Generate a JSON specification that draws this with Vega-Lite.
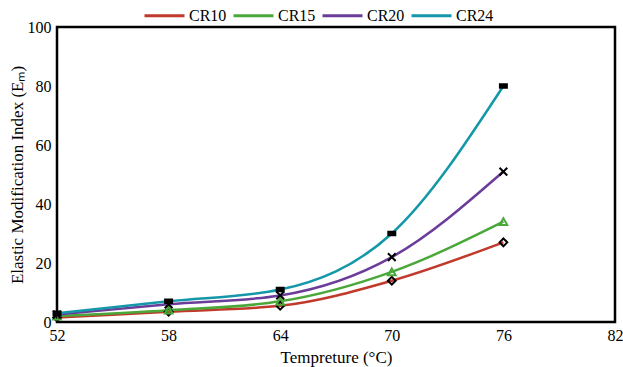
{
  "$schema": "https://vega.github.io/schema/vega-lite/v6.json",
  "width": 558,
  "height": 295,
  "autosize": {"type": "none"},
  "padding": {"left": 57, "top": 27, "right": 8, "bottom": 45},
  "background": "white",
  "config": {
    "font": "Liberation Serif, Times New Roman, serif",
    "view": {"stroke": "black", "strokeWidth": 2.5}
  },
  "data": {"values": [
    {"t": 52, "s": "CR10", "v": 1.5}, {"t": 58, "s": "CR10", "v": 3.5}, {"t": 64, "s": "CR10", "v": 5.5}, {"t": 70, "s": "CR10", "v": 14}, {"t": 76, "s": "CR10", "v": 27},
    {"t": 52, "s": "CR15", "v": 2}, {"t": 58, "s": "CR15", "v": 4}, {"t": 64, "s": "CR15", "v": 7}, {"t": 70, "s": "CR15", "v": 17}, {"t": 76, "s": "CR15", "v": 34},
    {"t": 52, "s": "CR20", "v": 2.5}, {"t": 58, "s": "CR20", "v": 6}, {"t": 64, "s": "CR20", "v": 9}, {"t": 70, "s": "CR20", "v": 22}, {"t": 76, "s": "CR20", "v": 51},
    {"t": 52, "s": "CR24", "v": 3}, {"t": 58, "s": "CR24", "v": 7}, {"t": 64, "s": "CR24", "v": 11}, {"t": 70, "s": "CR24", "v": 30}, {"t": 76, "s": "CR24", "v": 80}
  ]},
  "encoding": {
    "x": {"field": "t", "type": "quantitative", "title": "Tempreture (°C)", "scale": {"domain": [52, 82], "nice": false, "zero": false},
      "axis": {"values": [52, 58, 64, 70, 76, 82], "grid": false, "domain": false, "ticks": false, "labelFlush": false, "labelPadding": 5, "titlePadding": 6, "labelFont": "Liberation Serif, Times New Roman, serif", "labelFontSize": 16, "labelColor": "#000", "titleFont": "Liberation Serif, Times New Roman, serif", "titleFontSize": 17, "titleFontWeight": "normal", "titleColor": "#000"}},
    "y": {"field": "v", "type": "quantitative", "title": "Elastic Modification Index (Eₘ)", "scale": {"domain": [0, 100], "nice": false},
      "axis": {"values": [0, 20, 40, 60, 80, 100], "grid": false, "domain": false, "ticks": false, "labelFlush": false, "labelPadding": 6, "titlePadding": 1, "labelFont": "Liberation Serif, Times New Roman, serif", "labelFontSize": 16, "labelColor": "#000", "titleFont": "Liberation Serif, Times New Roman, serif", "titleFontSize": 17, "titleFontWeight": "normal", "titleColor": "#000"}}
  },
  "layer": [
    {
      "mark": {"type": "line", "interpolate": "monotone", "strokeWidth": 2.5},
      "encoding": {
        "color": {"field": "s", "type": "nominal", "scale": {"domain": ["CR10", "CR15", "CR20", "CR24"], "range": ["#c0392b", "#4aa83a", "#6a3d9a", "#1597aa"]},
          "legend": {"title": null, "orient": "none", "legendX": 86, "legendY": -33, "direction": "horizontal", "symbolType": "stroke", "symbolStrokeWidth": 3, "symbolSize": 1600, "labelFontSize": 16, "labelFont": "Liberation Serif, Times New Roman, serif", "labelColor": "#000", "columnPadding": 0, "labelOffset": 3}}
      }
    },
    {
      "mark": {"type": "point", "size": 60, "strokeWidth": 2, "opacity": 1, "filled": false},
      "encoding": {
        "shape": {"condition": [{"test": "datum.s === 'CR10'", "value": "diamond"}, {"test": "datum.s === 'CR15'", "value": "triangle-up"}, {"test": "datum.s === 'CR20'", "value": "M-1,-1L1,1M-1,1L1,-1"}], "value": "M-0.9,-0.45H0.9V0.45H-0.9Z"},
        "stroke": {"condition": {"test": "datum.s === 'CR15'", "value": "#4aa83a"}, "value": "black"},
        "fill": {"condition": {"test": "datum.s === 'CR24'", "value": "black"}, "value": "transparent"}
      }
    }
  ]
}
